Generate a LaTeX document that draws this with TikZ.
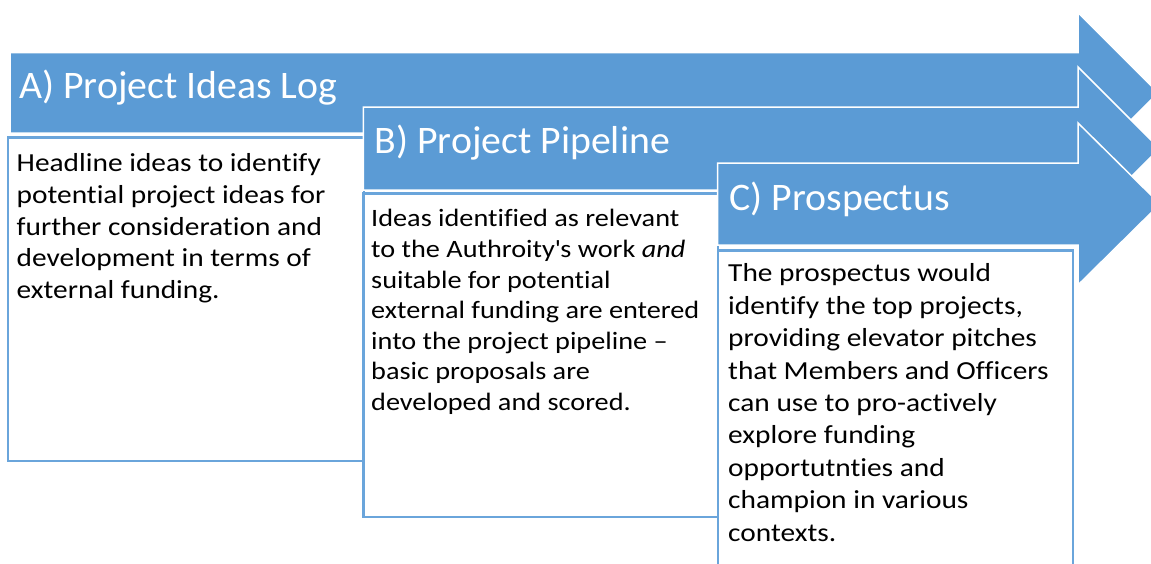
\documentclass[tikz,border=0pt]{standalone}
\usepackage{fontspec}
\setmainfont{Carlito}[Ligatures=NoCommon]
\newfontfamily\hdrfont{Carlito}[Ligatures=NoCommon, FakeStretch=1.02]
\newfontfamily\notefont{Carlito}[Ligatures=NoCommon, FakeStretch=1.13]
\definecolor{officeblue}{HTML}{5B9BD5}
\definecolor{boxline}{HTML}{6AA5DB}
\tikzset{
  arrowhdr/.style={fill=officeblue, draw=white, line width=1.5pt, line join=miter},
  notebox/.style={fill=white, draw=boxline, line width=2.5pt},
  hdrtext/.style={anchor=base west, inner sep=0pt, text=white, font=\hdrfont\fontsize{39}{47}\selectfont},
  notetext/.style={anchor=north west, inner sep=0pt, align=left, text=black}
}

\begin{document}
\begin{tikzpicture}[x=1pt, y=-1pt]
		%%%%% FRAME %%%%%
		\useasboundingbox (0, 0) rectangle (1151, 563);
		\clip (0, 0) rectangle (1151, 563);
		
		%%%%% A %%%%%
		\draw[arrowhdr] (10, 52.5) -- (1078, 52.5) -- (1078, 12.5) -- (1158.25, 92.75) -- (1078, 173) -- (1078, 133) -- (10, 133) -- cycle;
		\draw[notebox] (8, 137.5) rectangle (364, 461);
		\node[hdrtext] (hA) at (19, 98.3) {A) Project Ideas Log};
		\node[notetext, font=\notefont\fontsize{26}{31.7}\selectfont] (tA) at (16.5, 149.5) {\strut Headline ideas to identify\\potential project ideas for\\further consideration and\\development in terms of\\external funding.};
		
		%%%%% B %%%%%
		\draw[arrowhdr] (363.3, 107) -- (1078, 107) -- (1078, 67) -- (1159.5, 148.5) -- (1078, 230) -- (1078, 190) -- (363.3, 190) -- cycle;
		\draw[notebox] (363.3, 193.3) rectangle (718, 517);
		\node[hdrtext] (hB) at (374.5, 153.3) {B) Project Pipeline};
		\node[notetext, font=\notefont\fontsize{25}{30.6}\selectfont] (tB) at (371, 205.3) {\strut Ideas identified as relevant\\to the Authroity\textquotesingle s work \textit{and}\\suitable for potential\\external funding are entered\\into the project pipeline –\\basic proposals are\\developed and scored.};
		
		%%%%% C %%%%%
		\draw[arrowhdr] (717.5, 163) -- (1078, 163) -- (1078, 123) -- (1160, 204) -- (1078, 285) -- (1078, 245) -- (717.5, 245) -- cycle;
		\draw[notebox] (718, 250.5) rectangle (1073, 575);
		\node[hdrtext] (hC) at (729.5, 210) {C) Prospectus};
		\node[notetext, font=\notefont\fontsize{26}{32.4}\selectfont] (tC) at (728, 259) {\strut The prospectus would\\identify the top projects,\\providing elevator pitches\\that Members and Officers\\can use to pro-actively\\explore funding\\opportutnties and\\champion in various\\contexts.};
		
		%%%%% END %%%%%
	\end{tikzpicture}
\end{document}
